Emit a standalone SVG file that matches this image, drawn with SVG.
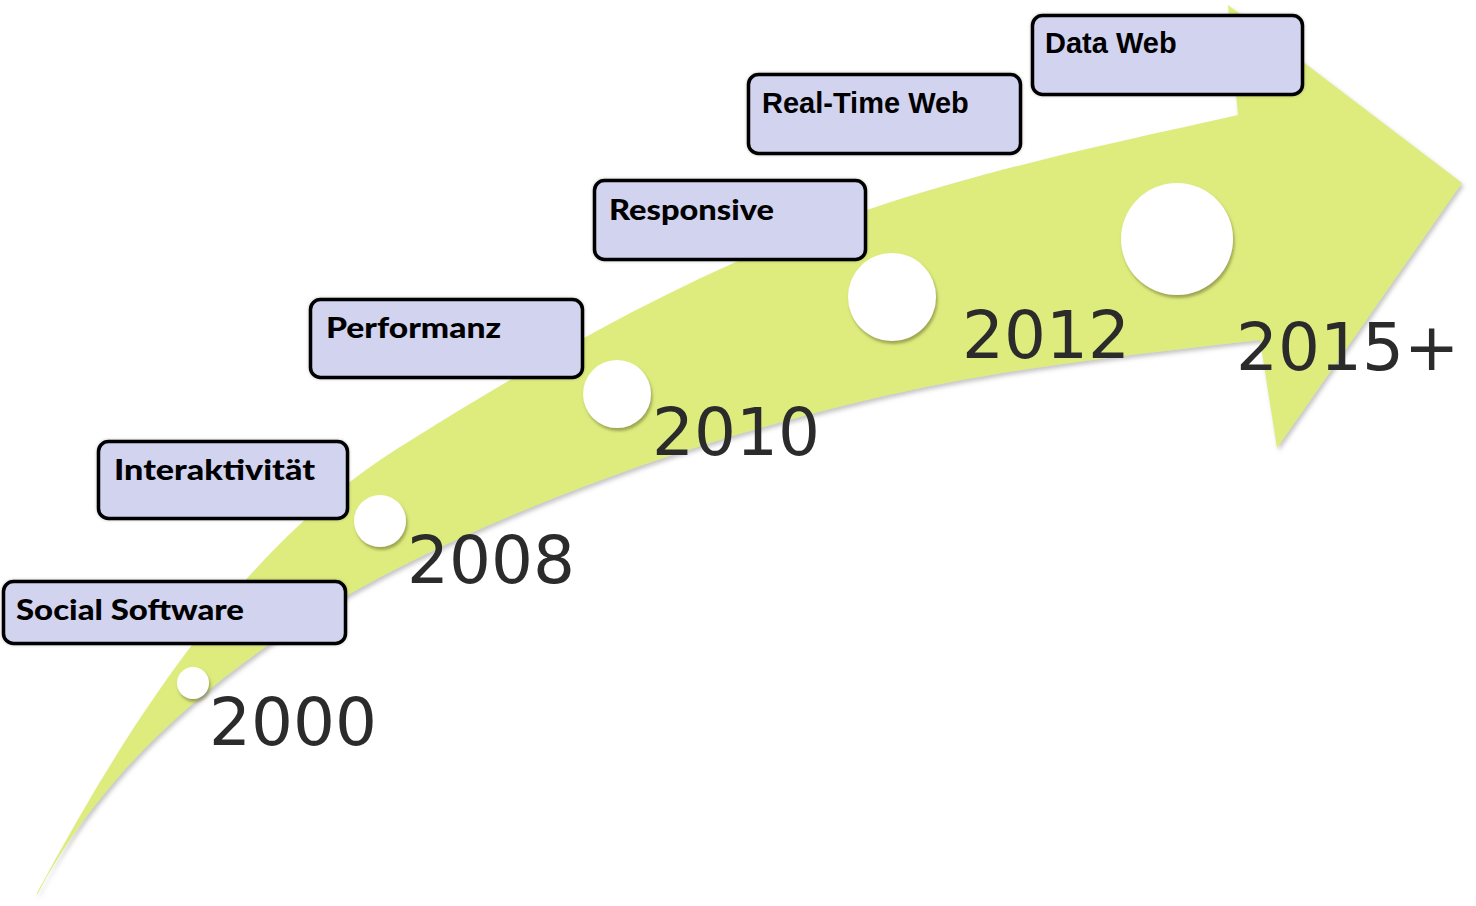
<svg xmlns="http://www.w3.org/2000/svg" width="1476" height="906" viewBox="0 0 1476 906">
<defs>
<filter id="arrowShadow" x="-5%" y="-5%" width="110%" height="110%">
<feDropShadow dx="2" dy="3" stdDeviation="2" flood-color="#808080" flood-opacity="0.45"/>
</filter>
<filter id="dotShadow" x="-30%" y="-30%" width="160%" height="160%">
<feDropShadow dx="1.5" dy="3" stdDeviation="1.5" flood-color="#6b6b2a" flood-opacity="0.55"/>
</filter>
<filter id="boxShadow" x="-5%" y="-10%" width="110%" height="120%">
<feDropShadow dx="0" dy="0" stdDeviation="1.5" flood-color="#000000" flood-opacity="0.25"/>
</filter>
</defs>
<style>
.arrow{fill:#deec7e;}
.dot{fill:#ffffff;filter:url(#dotShadow);}
.year{font-family:"DejaVu Sans",Verdana,sans-serif;font-size:66px;fill:#2b2b2b;}
.box{fill:#d2d3ef;stroke:#000000;stroke-width:3.5;filter:url(#boxShadow);}
.lblG{font-family:Lato,"Open Sans",sans-serif;font-weight:900;font-size:28px;fill:#000000;}
.lblA{font-family:"Liberation Sans",Arial,sans-serif;font-weight:bold;font-size:29px;fill:#000000;}
</style>
<rect width="1476" height="906" fill="#ffffff"/>
<g id="connectors">
<path class="arrow" filter="url(#arrowShadow)" d="M37,893 C127,726 239,548 400,447 C548,354 701,267 867,210 C988,169 1113,143 1238,115 L1228,5 L1462,183 L1277,448 L1260,340 C1128,355 996,369 867,400 C707,438 547,493 400,567 C255,640 112,750 37,895 Z"/>
</g>
<g id="y2000"><circle class="dot" cx="193" cy="683" r="16"/><text class="year" x="209" y="745">2000</text></g>
<g id="y2008"><circle class="dot" cx="380" cy="521" r="26"/><text class="year" x="407" y="583">2008</text></g>
<g id="y2010"><circle class="dot" cx="617" cy="394" r="34"/><text class="year" x="652" y="455">2010</text></g>
<g id="y2012"><circle class="dot" cx="892" cy="297" r="44"/><text class="year" x="962" y="358">2012</text></g>
<g id="y2015"><circle class="dot" cx="1177" cy="239" r="56"/><text class="year" x="1236" y="370">2015+</text></g>
<g id="social-software"><rect class="box" x="3.5" y="581.5" width="342" height="62" rx="10"/><text class="lblG" x="16" y="620" textLength="228" lengthAdjust="spacingAndGlyphs">Social Software</text></g>
<g id="interaktivitaet"><rect class="box" x="98.5" y="441.5" width="249" height="77" rx="10"/><text class="lblG" x="114" y="480" textLength="201" lengthAdjust="spacingAndGlyphs">Interaktivität</text></g>
<g id="performanz"><rect class="box" x="310.5" y="299.5" width="272" height="78" rx="10"/><text class="lblG" x="326" y="338" textLength="175" lengthAdjust="spacingAndGlyphs">Performanz</text></g>
<g id="responsive"><rect class="box" x="594.5" y="180.5" width="271" height="79" rx="10"/><text class="lblG" x="609" y="220" textLength="165" lengthAdjust="spacingAndGlyphs">Responsive</text></g>
<g id="real-time-web"><rect class="box" x="748.5" y="74.5" width="272" height="79" rx="10"/><text class="lblA" x="762" y="113">Real-Time Web</text></g>
<g id="data-web"><rect class="box" x="1032.5" y="15.5" width="270" height="79" rx="10"/><text class="lblA" x="1045" y="53">Data Web</text></g>
</svg>
